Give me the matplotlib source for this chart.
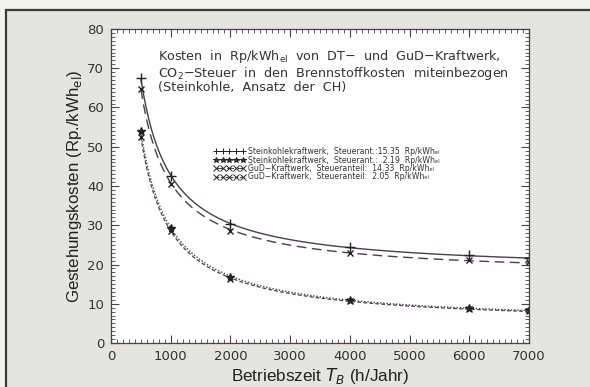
import numpy as np
import matplotlib
matplotlib.use("Agg")
import matplotlib.pyplot as plt
from matplotlib.ticker import MultipleLocator
from matplotlib.patches import Rectangle

# Betriebszeit (h/Jahr)
hours = [500, 1000, 2000, 4000, 6000, 7000]

# Gestehungskosten (Rp./kWh_el)
stein_hoch = [67.5, 42.5, 30.3, 24.4, 22.4, 21.6]
stein_tief = [54.0, 29.2, 16.8, 10.9, 9.0, 8.4]
gud_hoch = [64.8, 40.5, 28.6, 23.0, 21.1, 20.6]
gud_tief = [52.5, 28.5, 16.3, 10.6, 8.7, 8.2]

labels = [
    "Steinkohlekraftwerk,  Steuerant.:15.35  Rp/kWh\u2091\u2097",
    "Steinkohlekraftwerk,  Steuerant.:  2.19  Rp/kWh\u2091\u2097",
    "GuD\u2212Kraftwerk,  Steueranteil:  14.33  Rp/kWh\u2091\u2097",
    "GuD\u2212Kraftwerk,  Steueranteil:  2.05  Rp/kWh\u2091\u2097",
]

ink = "#4a3f4a"

fig = plt.figure(figsize=(5.9, 3.87), dpi=100)
fig.patch.set_facecolor("#f2f2f0")
# paper background + frame
frame = Rectangle((6 / 590, -0.05), 1.0, 1 - 10 / 387 + 0.05,
                  transform=fig.transFigure, facecolor="#e4e4e0",
                  edgecolor="#3a3a3a", linewidth=1.6, zorder=-5)
fig.add_artist(frame)

ax = fig.add_axes([111 / 590, 44 / 387, 418 / 590, 314 / 387])
ax.set_zorder(2)
ax.set_facecolor("white")

# costs fall off like a + b/T, draw the smooth curve through the points
t = np.linspace(hours[0], hours[-1], 300)
series = [
    (stein_hoch, "+", "-", 7, 1.0),
    (stein_tief, "*", (0, (1, 1.3)), 6, 1.0),
    (gud_hoch, "x", (0, (7, 4)), 5, 1.0),
    (gud_tief, "x", (0, (3, 1.8)), 5, 0.9),
]
handles = []
for vals, mk, ls, ms, lw in series:
    b, a = np.polyfit(1.0 / np.array(hours), vals, 1)
    ax.plot(t, a + b / t, color=ink, linestyle=ls, linewidth=lw)
    ax.plot(hours, vals, linestyle="none", marker=mk, color="#222222",
            markersize=ms, markeredgewidth=1.0)
    h, = ax.plot([], [], color=ink, linestyle=ls, linewidth=0.7, marker=mk,
                 markersize=4, markeredgewidth=0.7, markeredgecolor="#222222")
    handles.append(h)

ax.set_xlim(0, 7000)
ax.set_ylim(0, 80)
ax.xaxis.set_major_locator(MultipleLocator(1000))
ax.xaxis.set_minor_locator(MultipleLocator(100))
ax.yaxis.set_major_locator(MultipleLocator(10))
ax.yaxis.set_minor_locator(MultipleLocator(1))
ax.tick_params(which="both", direction="in", top=True, right=True,
               color=ink, labelsize=9.5, labelcolor="#333333", pad=5)
ax.tick_params(which="major", length=6, width=0.8)
ax.tick_params(which="minor", length=3, width=0.6)
for sp in ax.spines.values():
    sp.set_color(ink)
    sp.set_linewidth(0.9)

ax.set_xlabel(r"Betriebszeit $T_B$ (h/Jahr)", fontsize=12.3,
              family="Liberation Sans", color="#222222", labelpad=2)
ax.set_ylabel(r"Gestehungskosten (Rp./kWh$_{\rm el}$)", fontsize=12.2,
              family="Liberation Sans", color="#222222", labelpad=2)

ax.text(0.113, 0.94,
        "Kosten  in  Rp/kWh$_{\\rm el}$  von  DT$-$  und  GuD$-$Kraftwerk,\n"
        "CO$_2$$-$Steuer  in  den  Brennstoffkosten  miteinbezogen\n"
        "(Steinkohle,  Ansatz  der  CH)",
        transform=ax.transAxes, ha="left", va="top", fontsize=9.2,
        color="#333333", linespacing=0.98)

leg = ax.legend(handles, labels, loc="upper left",
                bbox_to_anchor=(0.246, 0.624), frameon=False, fontsize=5.6,
                numpoints=5, handlelength=4.0, handletextpad=0.4,
                labelspacing=-0.07, borderpad=0, borderaxespad=0)
for txt in leg.get_texts():
    txt.set_color("#333333")

fig.savefig("out.png", dpi=100, facecolor=fig.get_facecolor())
